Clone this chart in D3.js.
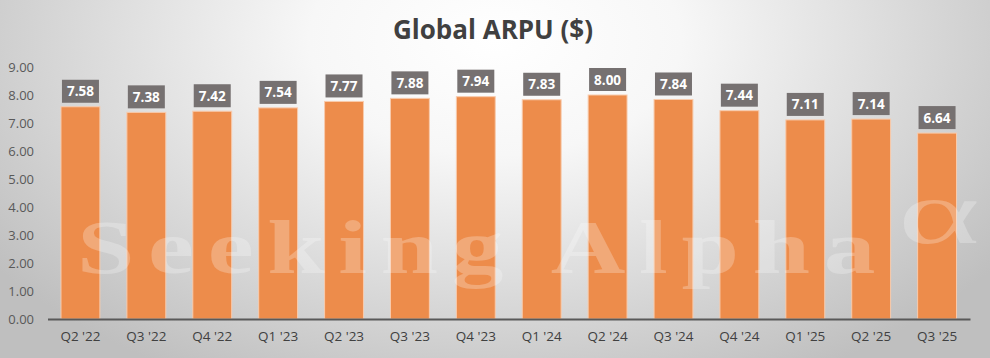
<!DOCTYPE html>
<html><head><meta charset="utf-8">
<script src="https://cdn.jsdelivr.net/npm/d3@7"></script>
<style>html,body{margin:0;padding:0;overflow:hidden}svg{display:block}</style>
</head><body>
<script>
const categories = ["Q2 '22","Q3 '22","Q4 '22","Q1 '23","Q2 '23","Q3 '23","Q4 '23","Q1 '24","Q2 '24","Q3 '24","Q4 '24","Q1 '25","Q2 '25","Q3 '25"];
const arpu = [7.58,7.38,7.42,7.54,7.77,7.88,7.94,7.83,8.00,7.84,7.44,7.11,7.14,6.64];
const yTicks = [0,1,2,3,4,5,6,7,8,9];
const title = "Global ARPU ($)";

const W = 990, H = 358;
const svg = d3.select("body").append("svg").attr("width", W).attr("height", H);
const defs = svg.append("defs");
const rg = defs.append("radialGradient").attr("id","bg").attr("gradientUnits","userSpaceOnUse")
  .attr("cx",495).attr("cy",40).attr("r",620).attr("gradientTransform","translate(495,40) scale(1,0.62) translate(-495,-40)");
rg.append("stop").attr("offset","0").attr("stop-color","#ffffff");
rg.append("stop").attr("offset","0.3").attr("stop-color","#f7f7f7");
rg.append("stop").attr("offset","1").attr("stop-color","#bfbfbf");
svg.append("rect").attr("width",W).attr("height",H).attr("fill","url(#bg)");

const x = d3.scaleBand().domain(categories).range([47.5, 970]).paddingInner(0.41).paddingOuter(0.205);
const y = d3.scaleLinear().domain([0,9]).range([319, 67]);

svg.append("text").attr("x",493).attr("y",39).attr("text-anchor","middle")
  .attr("font-family","'Open Sans', sans-serif").attr("font-weight",700).attr("font-size",26)
  .attr("fill","#404040").text(title);

// y axis labels
const yAxis = d3.axisLeft(y).tickValues(yTicks).tickFormat(d3.format(".2f")).tickSize(0).tickPadding(0);
const gy = svg.append("g").attr("transform","translate(34,0)").call(yAxis);
gy.select(".domain").remove();
gy.selectAll("text").attr("font-family","'Open Sans', sans-serif").attr("font-size",13).attr("fill","#595959");

// bars
svg.append("g").selectAll("rect").data(arpu).join("rect")
  .attr("x",(d,i)=>x(categories[i])).attr("width",x.bandwidth())
  .attr("y",d=>y(d)).attr("height",d=>y(0)-y(d))
  .attr("fill","#ED8C4B").attr("stroke","#F8CBAD").attr("stroke-width",1);

// x axis
const xAxis = d3.axisBottom(x).tickSize(0).tickPadding(12);
const gx = svg.append("g").attr("transform","translate(0,319)").call(xAxis);
gx.select(".domain").attr("stroke","#595959").attr("stroke-width",2);
gx.selectAll("text").attr("font-family","'Open Sans', sans-serif").attr("font-size",13.5).attr("fill","#404040");

// watermark
const wm = svg.append("g").attr("pointer-events","none");
wm.append("text").attr("x",77).attr("y",273)
  .attr("font-family","'Liberation Serif', 'DejaVu Serif', serif").attr("font-weight",700).attr("font-size",76)
  .attr("letter-spacing",10).attr("textLength",812).attr("lengthAdjust","spacingAndGlyphs")
  .attr("fill","#ffffff").attr("fill-opacity",0.25).text("Seeking Alpha");
wm.append("text").attr("transform","translate(898,243) scale(1.7,1)")
  .attr("font-family","'Liberation Serif', 'DejaVu Serif', serif").attr("font-size",92)
  .attr("fill","#ffffff").attr("fill-opacity",0.25).text("\u03B1");

// data labels
const lbl = svg.append("g");
arpu.forEach((d,i)=>{
  const cx = x(categories[i]) + x.bandwidth()/2;
  const by = y(d) - 4;
  lbl.append("rect").attr("x",cx-18.5).attr("y",by-23).attr("width",37).attr("height",23).attr("fill","#767171");
  lbl.append("text").attr("x",cx).attr("y",by-6.5).attr("text-anchor","middle")
    .attr("font-family","'Open Sans', sans-serif").attr("font-weight",700).attr("font-size",13.5)
    .attr("fill","#ffffff").text(d.toFixed(2));
});
</script>
</body></html>
